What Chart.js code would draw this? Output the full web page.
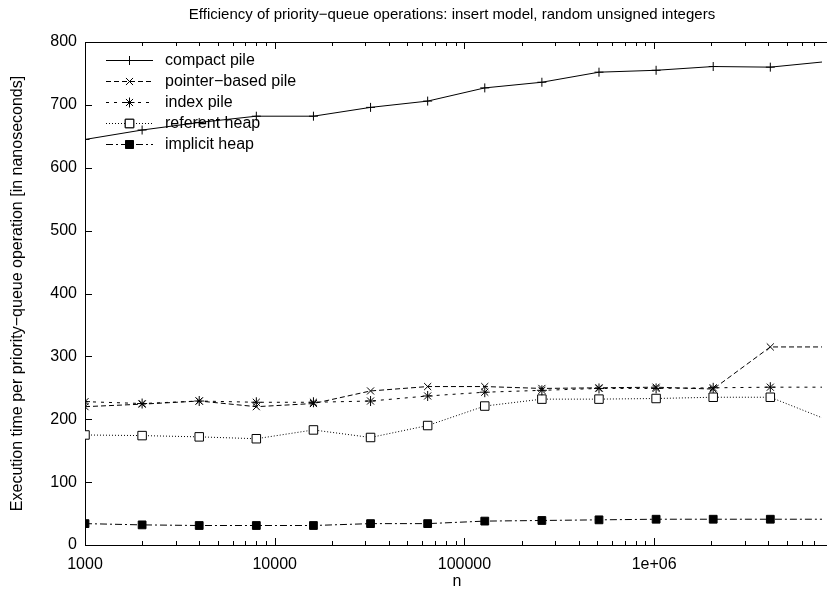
<!DOCTYPE html>
<html>
<head>
<meta charset="utf-8">
<script src="https://cdn.jsdelivr.net/npm/chart.js@4"></script>
<style>
  html, body { margin: 0; padding: 0; background: #fff; }
  #wrap { width: 829px; height: 593px; }
</style>
</head>
<body>
<div id="wrap"><canvas id="c" width="829" height="593"></canvas></div>
<script>
const chartTitle = "Efficiency of priority\u2212queue operations: insert model, random unsigned integers";
const xTitle = "n";
const yTitle = "Execution time per priority\u2212queue operation [in nanoseconds]";

const nValues = [1000, 2000, 4000, 8000, 16000, 32000, 64000, 128000, 256000, 512000, 1024000, 2048000, 4096000, 8192000];

const compactPile   = [645, 660, 672, 682, 682, 696, 706, 727, 736, 752, 755, 761, 760, 769];
const pointerPile   = [220, 224, 229, 220, 225, 245, 252, 252, 249, 250, 251, 248, 315, 315];
const indexPile     = [228, 225, 229, 227, 227, 229, 237, 243, 246, 249, 249, 250, 251, 251];
const referentHeap  = [175, 174, 172, 169, 183, 171, 190, 221, 232, 232, 233, 235, 235, 199];
const implicitHeap  = [34, 32, 31, 31, 31, 34, 34, 38, 39, 40, 41, 41, 41, 41];

const seriesNames = ["compact pile", "pointer\u2212based pile", "index pile", "referent heap", "implicit heap"];

const xTickValues = [1000, 10000, 100000, 1000000];
const xTickLabels = ["1000", "10000", "100000", "1e+06"];
const yTickValues = [0, 100, 200, 300, 400, 500, 600, 700, 800];

const FONT = "'Liberation Sans', Arial, Helvetica, sans-serif";
Chart.defaults.font.family = FONT;
Chart.defaults.font.size = 16;
Chart.defaults.color = '#000';

function mk(label, data, dash, style, radius, fill) {
  return {
    label, data: nValues.map((x, i) => ({x, y: data[i]})),
    borderColor: '#000', borderWidth: 1, borderDash: dash,
    pointStyle: style, pointRadius: radius, pointHoverRadius: radius,
    pointBorderColor: '#000', pointBorderWidth: 1,
    pointBackgroundColor: fill, backgroundColor: fill,
    tension: 0, fill: false
  };
}

const datasets = [
  mk(seriesNames[0], compactPile, [], 'cross', 4.5, '#000'),
  mk(seriesNames[1], pointerPile, [5, 3], 'crossRot', 5, '#000'),
  mk(seriesNames[2], indexPile, [3, 5], 'star', 5, '#000'),
  mk(seriesNames[3], referentHeap, [1, 2], 'rect', 6, '#fff'),
  mk(seriesNames[4], implicitHeap, [7, 3, 2, 3], 'rect', 5.5, '#000'),
];

const framePlugin = {
  id: 'frame',
  beforeDatasetsDraw(chart) {
    const ctx = chart.ctx, a = chart.chartArea;
    const xs = chart.scales.x, ys = chart.scales.y;
    ctx.save();
    ctx.strokeStyle = '#000';
    ctx.lineWidth = 1;
    ctx.setLineDash([]);
    ctx.beginPath();
    ctx.moveTo(a.right + 5, a.top + 0.5);
    ctx.lineTo(a.left + 0.5, a.top + 0.5);
    ctx.lineTo(a.left + 0.5, a.bottom + 0.5);
    ctx.lineTo(a.right + 5, a.bottom + 0.5);
    // y ticks
    yTickValues.forEach(v => {
      const y = Math.round(ys.getPixelForValue(v)) + 0.5;
      ctx.moveTo(a.left, y); ctx.lineTo(a.left + 7, y);
    });
    // x ticks (major + minor), bottom and top
    for (let d = 3; d <= 7; d++) {
      for (let k = 1; k <= 9; k++) {
        const v = k * Math.pow(10, d);
        if (v > xs.max) continue;
        const x = Math.round(xs.getPixelForValue(v)) + 0.5;
        const len = k === 1 ? 7 : 4;
        ctx.moveTo(x, a.bottom); ctx.lineTo(x, a.bottom - len);
        ctx.moveTo(x, a.top); ctx.lineTo(x, a.top + len);
      }
    }
    ctx.stroke();
    ctx.restore();
  },
  afterDraw(chart) {
    const ctx = chart.ctx, a = chart.chartArea;
    ctx.save();
    ctx.fillStyle = '#000';
    ctx.font = '15px ' + FONT;
    ctx.textAlign = 'center';
    ctx.textBaseline = 'middle';
    ctx.fillText(chartTitle, 452, 15);
    ctx.font = '16px ' + FONT;
    ctx.fillText(xTitle, 457, 582);
    ctx.translate(18, (a.top + a.bottom) / 2);
    ctx.rotate(-Math.PI / 2);
    ctx.fillText(yTitle, 0, 0);
    ctx.restore();

    // legend
    ctx.save();
    const rows = [60, 81, 102, 123, 144];
    chart.data.datasets.forEach((ds, i) => {
      const y = rows[i] + 0.5;
      ctx.strokeStyle = '#000';
      ctx.lineWidth = 1;
      ctx.setLineDash(ds.borderDash);
      ctx.beginPath();
      ctx.moveTo(106, y); ctx.lineTo(153, y);
      ctx.stroke();
      ctx.setLineDash([]);
      Chart.helpers.drawPoint(ctx, {
        pointStyle: ds.pointStyle, radius: ds.pointRadius, rotation: 0,
        borderWidth: 1
      }, 129.5, y);
      ctx.fillStyle = ds.pointBackgroundColor;
      ctx.strokeStyle = '#000';
      ctx.fill && ds.pointStyle === 'rect' && (function () {
        ctx.beginPath();
        const s = Math.SQRT1_2 * ds.pointRadius;
        ctx.rect(129.5 - s, y - s, 2 * s, 2 * s);
        ctx.fill(); ctx.stroke();
      })();
      ctx.fillStyle = '#000';
      ctx.font = '16px ' + FONT;
      ctx.textAlign = 'left';
      ctx.textBaseline = 'middle';
      ctx.fillText(ds.label, 165, y);
    });
    ctx.restore();
  }
};

new Chart(document.getElementById('c'), {
  type: 'line',
  data: { datasets },
  options: {
    responsive: false,
    animation: false,
    layout: { padding: { top: 42, right: 0, left: 0, bottom: 0 } },
    plugins: { legend: { display: false }, title: { display: false }, tooltip: { enabled: false } },
    scales: {
      x: {
        type: 'logarithmic',
        min: 1000,
        max: 7.67e6,
        grid: { display: false, drawTicks: false },
        border: { display: false },
        afterBuildTicks: s => { s.ticks = xTickValues.map(v => ({ value: v })); },
        afterFit: s => { s.height = 48; },
        ticks: {
          padding: 10, maxRotation: 0, autoSkip: false,
          callback: v => { const i = xTickValues.indexOf(v); return i >= 0 ? xTickLabels[i] : ''; }
        }
      },
      y: {
        min: 0, max: 800,
        grid: { display: false, drawTicks: false },
        border: { display: false },
        afterBuildTicks: s => { s.ticks = yTickValues.map(v => ({ value: v })); },
        afterFit: s => { s.width = 85; },
        ticks: { padding: 8 }
      }
    }
  },
  plugins: [framePlugin]
});
</script>
</body>
</html>
